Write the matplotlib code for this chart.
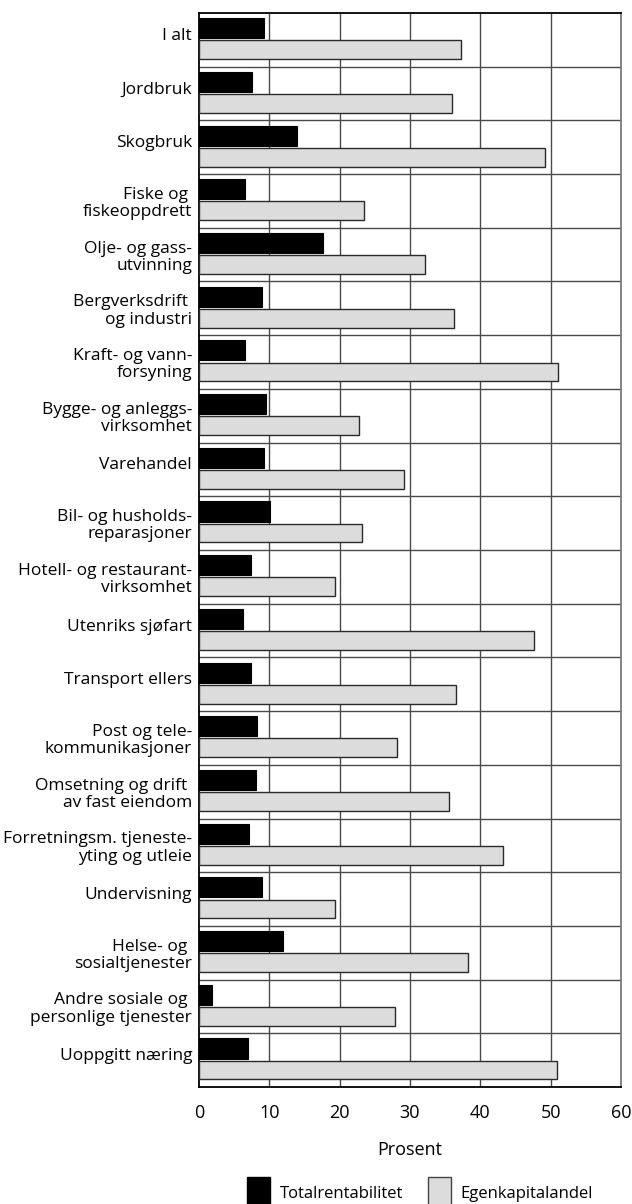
import matplotlib
matplotlib.use("Agg")
import matplotlib.pyplot as plt
import matplotlib.transforms as mtransforms
from matplotlib.patches import Patch
import numpy as np

plt.rcParams['font.family'] = ['Open Sans', 'DejaVu Sans']

categories = [
    "I alt", "Jordbruk", "Skogbruk", "Fiske og \nfiskeoppdrett",
    "Olje- og gass-\nutvinning", "Bergverksdrift \nog industri",
    "Kraft- og vann-\nforsyning", "Bygge- og anleggs-\nvirksomhet",
    "Varehandel", "Bil- og husholds-\nreparasjoner",
    "Hotell- og restaurant-\nvirksomhet", "Utenriks sjøfart",
    "Transport ellers", "Post og tele-\nkommunikasjoner",
    "Omsetning og drift \nav fast eiendom",
    "Forretningsm. tjeneste-\nyting og utleie", "Undervisning",
    "Helse- og \nsosialtjenester", "Andre sosiale og \npersonlige tjenester",
    "Uoppgitt næring",
]
totalrentabilitet = [9.3, 7.6, 13.9, 6.5, 17.6, 8.9, 6.5, 9.5, 9.2, 10.1,
                     7.4, 6.2, 7.4, 8.2, 8.1, 7.1, 9.0, 12.0, 1.9, 6.9]
egenkapitalandel = [37.2, 36.0, 49.2, 23.5, 32.1, 36.3, 51.0, 22.8, 29.1, 23.2,
                    19.4, 47.7, 36.5, 28.2, 35.5, 43.2, 19.4, 38.2, 27.9, 50.9]
x_ticks = [0, 10, 20, 30, 40, 50, 60]

n = len(categories)
y = np.arange(n)

fig = plt.figure(figsize=(6.32, 12.04), dpi=100)
ax = fig.add_axes([199 / 632, 1 - 1087 / 1204, 422 / 632, 1074 / 1204])

ax.barh(y - 0.217, totalrentabilitet, height=0.375, color='black',
        edgecolor='black', linewidth=0.8, zorder=3)
ax.barh(y + 0.185, egenkapitalandel, height=0.35, color='#dcdcdc',
        edgecolor='#2a2a2a', linewidth=1.0, zorder=3)

# grid: vertical at ticks, horizontal between categories
for xv in x_ticks[1:-1]:
    ax.axvline(xv, color='#4a4a4a', linewidth=1.0, zorder=1)
for i in range(n - 1):
    ax.axhline(i + 0.5, color='#4a4a4a', linewidth=1.0, zorder=1)

ax.set_xlim(0, 60)
ax.set_ylim(n - 0.5, -0.5)
ax.set_xticks(x_ticks)
ax.set_yticks(y)
ax.set_yticklabels(categories, fontsize=12.5, linespacing=1.1)
ax.tick_params(axis='both', length=0)
ax.tick_params(axis='x', labelsize=13, pad=12)
ax.tick_params(axis='y', pad=5)
ax.set_xlabel('Prosent', fontsize=13, labelpad=14)

# one-line labels sit a bit higher than the bar pair centre
shift_up = mtransforms.ScaledTranslation(0, 6 / 100, fig.dpi_scale_trans)
for lbl in ax.get_yticklabels():
    if '\n' not in lbl.get_text():
        lbl.set_transform(lbl.get_transform() + shift_up)

for side in ['left', 'bottom', 'top']:
    ax.spines[side].set_color('black')
    ax.spines[side].set_linewidth(1.3)
ax.spines['right'].set_color('#7a7a7a')
ax.spines['right'].set_linewidth(1.3)

handles = [Patch(facecolor='black', edgecolor='black', label='Totalrentabilitet'),
           Patch(facecolor='#dcdcdc', edgecolor='#444444', label='Egenkapitalandel')]
fig.legend(handles=handles, loc='upper left', bbox_to_anchor=(247 / 632, 1 - 1177 / 1204),
           ncol=2, frameon=False, fontsize=12, handlelength=1.38, handleheight=2.5,
           handletextpad=0.6, columnspacing=1.45, borderpad=0, borderaxespad=0)

fig.savefig('out.png', dpi=100)
